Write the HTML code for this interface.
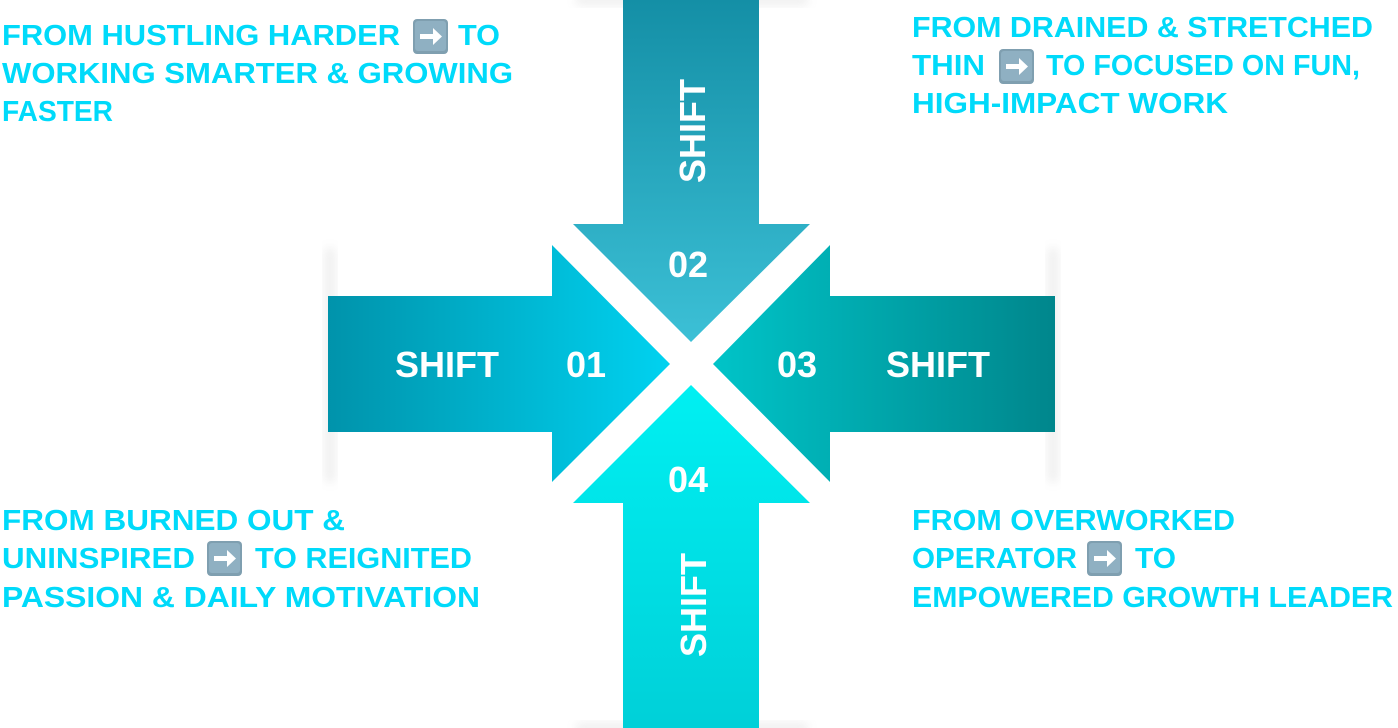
<!DOCTYPE html>
<html><head><meta charset="utf-8"><style>
html,body{margin:0;padding:0;background:#fff;width:1398px;height:728px;overflow:hidden}
svg{display:block}
.t{font-family:"Liberation Sans",sans-serif;font-weight:bold;fill:#00dafa;font-size:29px}
.w{font-family:"Liberation Sans",sans-serif;font-weight:bold;fill:#fff}
</style></head><body>
<svg width="1398" height="728" viewBox="0 0 1398 728" xmlns="http://www.w3.org/2000/svg">
<defs>
<linearGradient id="gL" x1="328" y1="0" x2="670" y2="0" gradientUnits="userSpaceOnUse"><stop offset="0" stop-color="#0093ab"/><stop offset="1" stop-color="#00d2f0"/></linearGradient>
<linearGradient id="gT" x1="0" y1="0" x2="0" y2="342" gradientUnits="userSpaceOnUse"><stop offset="0" stop-color="#148fa6"/><stop offset="1" stop-color="#3cc0d6"/></linearGradient>
<linearGradient id="gR" x1="713" y1="0" x2="1055" y2="0" gradientUnits="userSpaceOnUse"><stop offset="0" stop-color="#00c4c8"/><stop offset="1" stop-color="#00868c"/></linearGradient>
<linearGradient id="gB" x1="0" y1="385" x2="0" y2="728" gradientUnits="userSpaceOnUse"><stop offset="0" stop-color="#00f0f2"/><stop offset="1" stop-color="#00d0d8"/></linearGradient>
<filter id="bl" x="-50%" y="-50%" width="200%" height="200%"><feGaussianBlur stdDeviation="5"/></filter>
<g id="emo"><rect x="0" y="0" width="35" height="35" rx="4" fill="#7f9fb0"/><rect x="2" y="2" width="31" height="30" rx="3" fill="#8fb0c2"/><path d="M7 15h13v-6l9 8.5-9 8.5v-6H7z" fill="#fff"/></g>
</defs>
<rect x="326" y="248" width="8" height="234" fill="#999" opacity="0.2" filter="url(#bl)"/>
<rect x="1049" y="248" width="8" height="234" fill="#999" opacity="0.2" filter="url(#bl)"/>
<rect x="576" y="-4" width="232" height="8" fill="#999" opacity="0.2" filter="url(#bl)"/>
<rect x="576" y="724" width="232" height="8" fill="#999" opacity="0.2" filter="url(#bl)"/>
<polygon points="328,296 552,296 552,245 670,364 552,482 552,432 328,432" fill="url(#gL)"/>
<polygon points="623,0 759,0 759,224 810,224 691,342 573,224 623,224" fill="url(#gT)"/>
<polygon points="1055,296 830,296 830,245 713,364 830,482 830,432 1055,432" fill="url(#gR)"/>
<polygon points="623,728 759,728 759,503 810,503 691,385 573,503 623,503" fill="url(#gB)"/>
<text class="w" x="447" y="377" font-size="36" text-anchor="middle">SHIFT</text>
<text class="w" x="586" y="377" font-size="36" text-anchor="middle">01</text>
<text class="w" x="797" y="377" font-size="36" text-anchor="middle">03</text>
<text class="w" x="938" y="377" font-size="36" text-anchor="middle">SHIFT</text>
<text class="w" x="688" y="277" font-size="36" text-anchor="middle">02</text>
<text class="w" x="688" y="492" font-size="36" text-anchor="middle">04</text>
<text class="w" font-size="36" text-anchor="middle" transform="translate(705,131) rotate(-90)">SHIFT</text>
<text class="w" font-size="36" text-anchor="middle" transform="translate(706,605) rotate(-90)">SHIFT</text>
<text class="t" x="2" y="45" textLength="398" lengthAdjust="spacingAndGlyphs">FROM HUSTLING HARDER</text>
<use href="#emo" x="413" y="19"/>
<text class="t" x="458" y="45" textLength="42" lengthAdjust="spacingAndGlyphs">TO</text>
<text class="t" x="2" y="83" textLength="511" lengthAdjust="spacingAndGlyphs">WORKING SMARTER &amp; GROWING</text>
<text class="t" x="2" y="121" textLength="111" lengthAdjust="spacingAndGlyphs">FASTER</text>
<text class="t" x="912" y="37" textLength="461" lengthAdjust="spacingAndGlyphs">FROM DRAINED &amp; STRETCHED</text>
<text class="t" x="912" y="75" textLength="73" lengthAdjust="spacingAndGlyphs">THIN</text>
<use href="#emo" x="999" y="49"/>
<text class="t" x="1046" y="75" textLength="314" lengthAdjust="spacingAndGlyphs">TO FOCUSED ON FUN,</text>
<text class="t" x="912" y="113" textLength="316" lengthAdjust="spacingAndGlyphs">HIGH-IMPACT WORK</text>
<text class="t" x="2" y="530" textLength="343" lengthAdjust="spacingAndGlyphs">FROM BURNED OUT &amp;</text>
<text class="t" x="2" y="568" textLength="193" lengthAdjust="spacingAndGlyphs">UNINSPIRED</text>
<use href="#emo" x="207" y="541"/>
<text class="t" x="255" y="568" textLength="217" lengthAdjust="spacingAndGlyphs">TO REIGNITED</text>
<text class="t" x="2" y="607" textLength="478" lengthAdjust="spacingAndGlyphs">PASSION &amp; DAILY MOTIVATION</text>
<text class="t" x="912" y="530" textLength="323" lengthAdjust="spacingAndGlyphs">FROM OVERWORKED</text>
<text class="t" x="912" y="568" textLength="165" lengthAdjust="spacingAndGlyphs">OPERATOR</text>
<use href="#emo" x="1087" y="541"/>
<text class="t" x="1135" y="568" textLength="41" lengthAdjust="spacingAndGlyphs">TO</text>
<text class="t" x="912" y="607" textLength="481" lengthAdjust="spacingAndGlyphs">EMPOWERED GROWTH LEADER</text>
</svg>
</body></html>
